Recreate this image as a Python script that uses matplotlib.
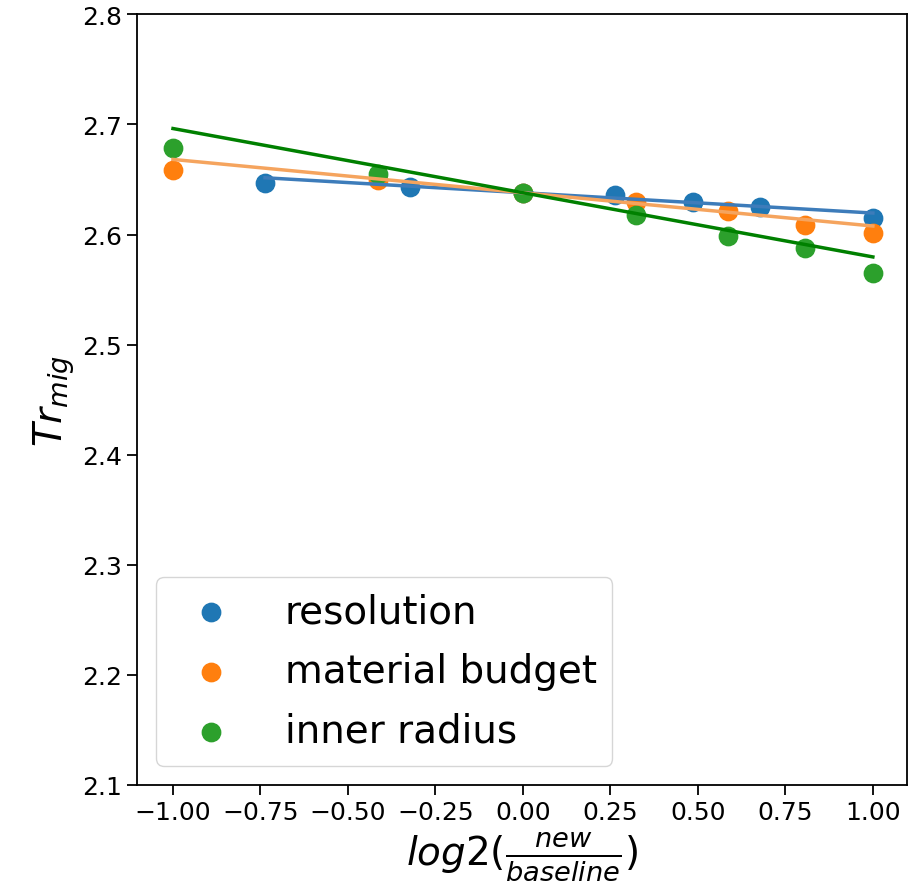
import numpy as np
import matplotlib
matplotlib.use('Agg')
import matplotlib.pyplot as plt

# log2(new/baseline) values and Tr_mig for each varied parameter
res_x = [-0.737, -0.322, 0.0, 0.263, 0.485, 0.678, 1.0]
res_y = [2.647, 2.643, 2.638, 2.636, 2.630, 2.625, 2.615]

mat_x = [-1.0, -0.415, 0.0, 0.322, 0.585, 0.807, 1.0]
mat_y = [2.659, 2.650, 2.638, 2.630, 2.621, 2.609, 2.601]

rad_x = [-1.0, -0.415, 0.0, 0.322, 0.585, 0.807, 1.0]
rad_y = [2.679, 2.655, 2.638, 2.618, 2.599, 2.588, 2.565]

baseline = 2.638

labels = ['resolution', 'material budget', 'inner radius']
point_colors = ['tab:blue', 'tab:orange', 'tab:green']
line_colors = ['#3d7cba', '#f5a45e', 'green']

fig = plt.figure(figsize=(9.1, 8.95), dpi=100)
ax = fig.add_axes([0.1505, 0.1218, 0.846, 0.861])

series = [(res_x, res_y), (mat_x, mat_y), (rad_x, rad_y)]
for (x, y), lab, pc in zip(series, labels, point_colors):
    ax.scatter(x, y, s=175, color=pc, label=lab, zorder=2)

# linear fit forced through the baseline point (0, baseline)
for (x, y), lc in zip(series, line_colors):
    x = np.array(x)
    y = np.array(y)
    k = np.sum(x * (y - baseline)) / np.sum(x * x)
    xs = np.array([x.min(), x.max()])
    ax.plot(xs, baseline + k * xs, color=lc, lw=2.5, zorder=3)

ax.set_ylim(2.1, 2.8)
ax.set_xlim(-1.103, 1.097)
ax.set_xticks([-1.0, -0.75, -0.5, -0.25, 0.0, 0.25, 0.5, 0.75, 1.0])
ax.set_xticklabels(['−1.00', '−0.75', '−0.50', '−0.25', '0.00', '0.25', '0.50', '0.75', '1.00'])
ax.tick_params(labelsize=18, length=7, width=1.3)
for sp in ax.spines.values():
    sp.set_linewidth(1.3)

ax.set_ylabel(r'$Tr_{mig}$', fontsize=28)
ax.set_xlabel(r'$log2(\frac{new}{baseline})$', fontsize=28)

ax.legend(loc='lower left', fontsize=28, borderpad=0.4, handletextpad=0.9,
          labelspacing=0.56)

fig.savefig('out.png', dpi=100)
